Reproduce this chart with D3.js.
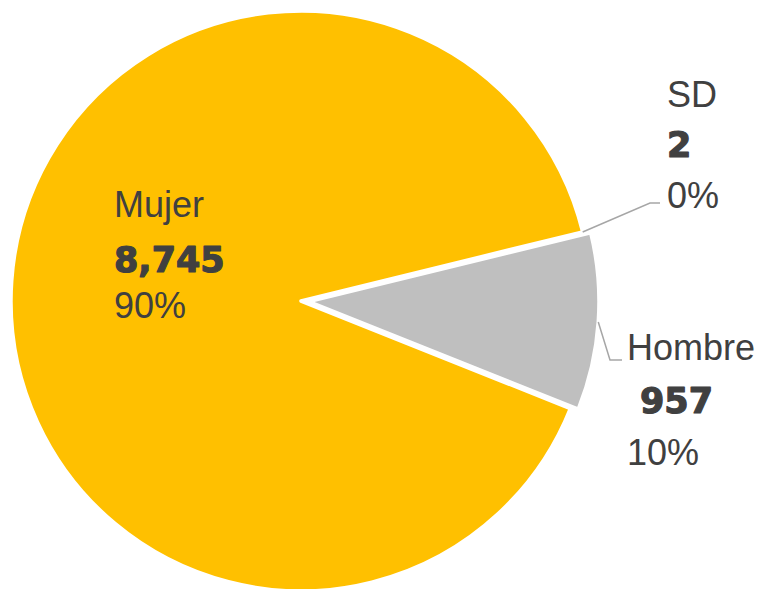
<!DOCTYPE html>
<html lang="es">
<head>
<meta charset="UTF-8">
<title>Mujer / Hombre / SD</title>
<script src="https://cdn.jsdelivr.net/npm/d3@7/dist/d3.min.js"></script>
<style>
    html, body { margin: 0; padding: 0; background: #fff; }
    svg { display: block; }
    .lbl { font-family: "Liberation Sans", Arial, sans-serif; font-size: 36px; fill: #404040; }
    .num { font-family: "DejaVu Sans", sans-serif; font-weight: bold; font-size: 35px; fill: #404040;
           stroke: #404040; stroke-width: 1.2px; stroke-linejoin: round; }
</style>
</head>
<body>
<div id="chart"></div>
<script>
const width = 764;
const height = 589;

// datos
const categories = ['SD', 'Hombre', 'Mujer'];
const values = [2, 957, 8745];
const colors = ['#BFBFBF', '#BFBFBF', '#FFC000'];

const cx = 301, cy = 301, radius = 290;
const startDeg = 76.2;   // primer corte, en grados desde las 12
const explode = { Hombre: 8 };

// donde va cada etiqueta (x, lineas base) y su linea guia
const labelPos = {
    Mujer:  { x: 114, y: [217, 272, 318], numDx: 0 },
    SD:     { x: 667, y: [107, 157, 208], numDx: 0, guide: [[650, 203], [660, 203]] },
    Hombre: { x: 627, y: [360, 413, 465], numDx: 13, guide: [[610, 360], [622, 360]] }
};

const total = d3.sum(values);
const data = categories.map((c, i) => ({ cat: c, value: values[i], color: colors[i] }));

const svg = d3.select('#chart').append('svg')
    .attr('width', width)
    .attr('height', height);

const g = svg.append('g').attr('transform', `translate(${cx},${cy})`);

const pie = d3.pie()
    .sort(null)
    .value(d => d.value)
    .startAngle(startDeg * Math.PI / 180)
    .endAngle(startDeg * Math.PI / 180 + 2 * Math.PI);

const arc = d3.arc().innerRadius(0).outerRadius(radius);
const arcs = pie(data);

function offset(d) {
    const o = explode[d.data.cat] || 0;
    const a = (d.startAngle + d.endAngle) / 2;
    return [o * Math.sin(a), -o * Math.cos(a)];
}

g.selectAll('path.slice')
    .data(arcs)
    .enter()
    .append('path')
    .attr('class', 'slice')
    .attr('d', arc)
    .attr('transform', d => `translate(${offset(d)})`)
    .attr('fill', d => d.data.color)
    .attr('stroke', '#fff')
    .attr('stroke-width', 3.5)
    .attr('stroke-linejoin', 'round');

// lineas guia
arcs.forEach(d => {
    const p = labelPos[d.data.cat];
    if (!p.guide) return;
    const a = (d.startAngle + d.endAngle) / 2;
    const off = offset(d);
    const start = [cx + off[0] + radius * Math.sin(a), cy + off[1] - radius * Math.cos(a)];
    const pts = [start].concat(p.guide);
    svg.append('path')
        .attr('d', d3.line()(pts))
        .attr('fill', 'none')
        .attr('stroke', '#A6A6A6')
        .attr('stroke-width', 1.5);
});

// etiquetas
const fmtNum = d3.format(',');
const fmtPct = d3.format('.0%');
arcs.forEach(d => {
    const p = labelPos[d.data.cat];
    svg.append('text').attr('class', 'lbl')
        .attr('x', p.x).attr('y', p.y[0])
        .text(d.data.cat);
    svg.append('text').attr('class', 'num')
        .attr('x', p.x + p.numDx).attr('y', p.y[1])
        .text(fmtNum(d.data.value));
    svg.append('text').attr('class', 'lbl')
        .attr('x', p.x).attr('y', p.y[2])
        .text(fmtPct(d.data.value / total));
});
</script>
</body>
</html>
